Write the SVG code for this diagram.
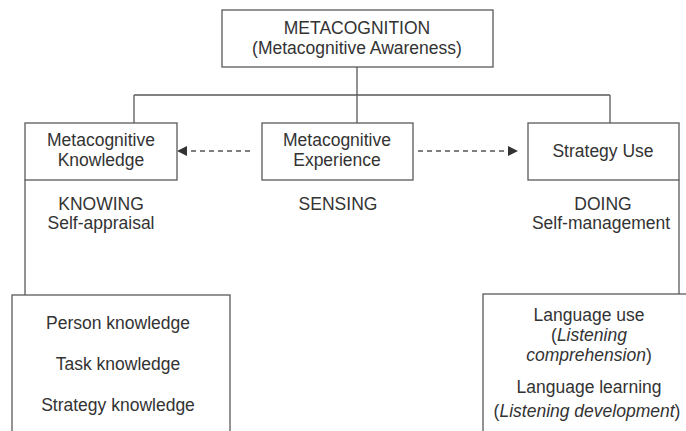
<svg xmlns="http://www.w3.org/2000/svg" width="686" height="431" viewBox="0 0 686 431">
<defs>
<style>
.box{fill:#fff;stroke:#5a5a5a;stroke-width:1.3}
.ln{fill:none;stroke:#5a5a5a;stroke-width:1.3}
.dash{fill:none;stroke:#555;stroke-width:1.3;stroke-dasharray:5,4}
text{font-family:"Liberation Sans",Arial,sans-serif;font-size:17.5px;fill:#333;text-anchor:middle}
.it{font-style:italic}
</style>
<marker id="ah" markerWidth="10" markerHeight="10" refX="9" refY="5" orient="auto" markerUnits="userSpaceOnUse">
<path d="M0,0 L10,5 L0,10 z" fill="#333"/>
</marker>
</defs>
<rect width="686" height="431" fill="#fff"/>
<g id="connectors">
<path class="ln" d="M357,67 V95 M134,95 H610 M134,95 V123 M357,95 V123 M610,95 V123"/>
<path class="ln" d="M25,180 V295"/>
<path class="ln" d="M679,180 V295"/>
<path class="dash" d="M250,151 H178" marker-end="url(#ah)"/>
<path class="dash" d="M418,151 H517" marker-end="url(#ah)"/>
</g>
<g id="metacognition">
<rect class="box" x="222" y="10" width="271" height="57"/>
<text x="357" y="34">METACOGNITION</text>
<text x="357" y="54">(Metacognitive Awareness)</text>
</g>
<g id="knowledge">
<rect class="box" x="25" y="123" width="152" height="57"/>
<text x="101" y="146">Metacognitive</text>
<text x="101" y="166">Knowledge</text>
</g>
<g id="experience">
<rect class="box" x="262" y="123" width="151" height="57"/>
<text x="337" y="146">Metacognitive</text>
<text x="337" y="166">Experience</text>
</g>
<g id="strategy">
<rect class="box" x="528" y="123" width="151" height="57"/>
<text x="603" y="157">Strategy Use</text>
</g>
<g id="knowing">
<text x="101" y="210">KNOWING</text>
<text x="101" y="229">Self-appraisal</text>
</g>
<g id="sensing">
<text x="338" y="210">SENSING</text>
</g>
<g id="doing">
<text x="603" y="210">DOING</text>
<text x="601" y="229">Self-management</text>
</g>
<g id="knowledge-types">
<rect class="box" x="12" y="295" width="218" height="150"/>
<text x="118" y="329">Person knowledge</text>
<text x="118" y="370">Task knowledge</text>
<text x="118" y="411">Strategy knowledge</text>
</g>
<g id="language">
<rect class="box" x="483" y="294" width="215" height="150"/>
<text x="589" y="321">Language use</text>
<text x="589" y="341">(<tspan class="it">Listening</tspan></text>
<text x="589" y="361"><tspan class="it">comprehension</tspan>)</text>
<text x="589" y="393">Language learning</text>
<text x="587" y="417">(<tspan class="it">Listening development</tspan>)</text>
</g>
</svg>
